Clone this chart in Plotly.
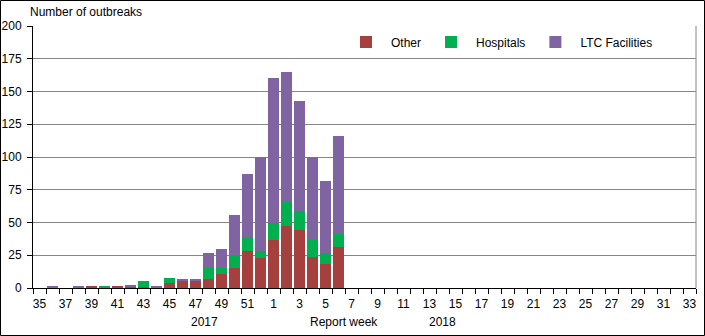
import plotly.graph_objects as go

weeks = [str(w) for w in range(35, 53)] + [str(w) for w in range(1, 34)]
other = [0, 0, 0, 0, 1, 0, 1, 1, 1, 0, 4, 5, 5, 7, 11, 15, 28, 23, 37, 47, 44, 24, 18, 31] + [0] * 27
hospitals = [0, 0, 0, 0, 0, 1, 0, 0, 4, 0, 4, 0, 0, 8, 4, 10, 11, 5, 13, 19, 15, 13, 9, 10] + [0] * 27
ltc = [0, 1, 0, 1, 0, 0, 0, 1, 0, 1, 0, 2, 2, 12, 15, 31, 48, 72, 110, 99, 84, 63, 55, 75] + [0] * 27

series = [("Other", other, "#A5403E"), ("Hospitals", hospitals, "#00B050"), ("LTC Facilities", ltc, "#8064A2")]
yticks = list(range(0, 201, 25))

W, H = 705, 336
L, R, T, B = 33, 9, 26, 48
pw, ph = W - L - R, H - T - B

def py(px):
    """paper y fraction for a pixel row"""
    return (T + ph - px) / ph

def pxf(px):
    return (px - L) / pw

xs = list(range(len(weeks)))
fig = go.Figure()
for name, vals, col in series:
    fig.add_trace(go.Bar(x=xs, y=vals, name=name, marker=dict(color=col, line=dict(width=0))))

font = dict(family="Liberation Sans, Arial, sans-serif", size=12, color="#000000")
fig.update_layout(
    width=W, height=H, barmode="stack", bargap=0.18,
    margin=dict(l=L, r=R, t=T, b=B, pad=0, autoexpand=False),
    paper_bgcolor="white", plot_bgcolor="white", font=font,
    showlegend=True,
    legend=dict(orientation="h", x=pxf(341), y=py(42), xanchor="left", yanchor="middle",
                bgcolor="rgba(0,0,0,0)", font=dict(size=12), itemwidth=40, traceorder="normal"),
    xaxis=dict(range=[-0.5, len(weeks) - 0.5], tickmode="array", tickvals=xs[::2], ticktext=weeks[::2],
               ticks="outside", ticklen=5, tickcolor="rgba(0,0,0,0)", showgrid=False, zeroline=False,
               showline=True, linecolor="black", linewidth=1, automargin=False,
               minor=dict(tickmode="linear", tick0=-0.5, dtick=1, ticks="outside", ticklen=5,
                          tickcolor="black", showgrid=False)),
    yaxis=dict(range=[0, 200], tickmode="array", tickvals=yticks, ticks="outside", ticklen=5,
               tickcolor="black", showgrid=True, gridcolor="#868686", gridwidth=1, zeroline=False,
               showline=True, linecolor="black", linewidth=1, ticklabelstandoff=3, automargin=False),
)

fig.add_annotation(text="Number of outbreaks", xref="paper", yref="paper", x=pxf(28), y=py(12),
                   xanchor="left", yanchor="middle", showarrow=False, font=dict(size=12))
for txt, xpos in [("2017", 12.7), ("Report week", 23.4), ("2018", 31.0)]:
    fig.add_annotation(text=txt, xref="x", yref="paper", x=xpos, y=py(322),
                       xanchor="center", yanchor="middle", showarrow=False, font=dict(size=12))

# plot-area right border (gray) and outer chart border (black)
fig.add_shape(type="line", xref="paper", yref="paper", x0=1, x1=1, y0=0, y1=1,
              line=dict(color="#868686", width=1))
fig.add_shape(type="rect", xref="paper", yref="paper",
              x0=pxf(0.5), x1=pxf(W - 0.5), y0=py(H - 0.5), y1=py(0.5),
              line=dict(color="black", width=1), fillcolor="rgba(0,0,0,0)", layer="above")

fig.write_html("out.html")
